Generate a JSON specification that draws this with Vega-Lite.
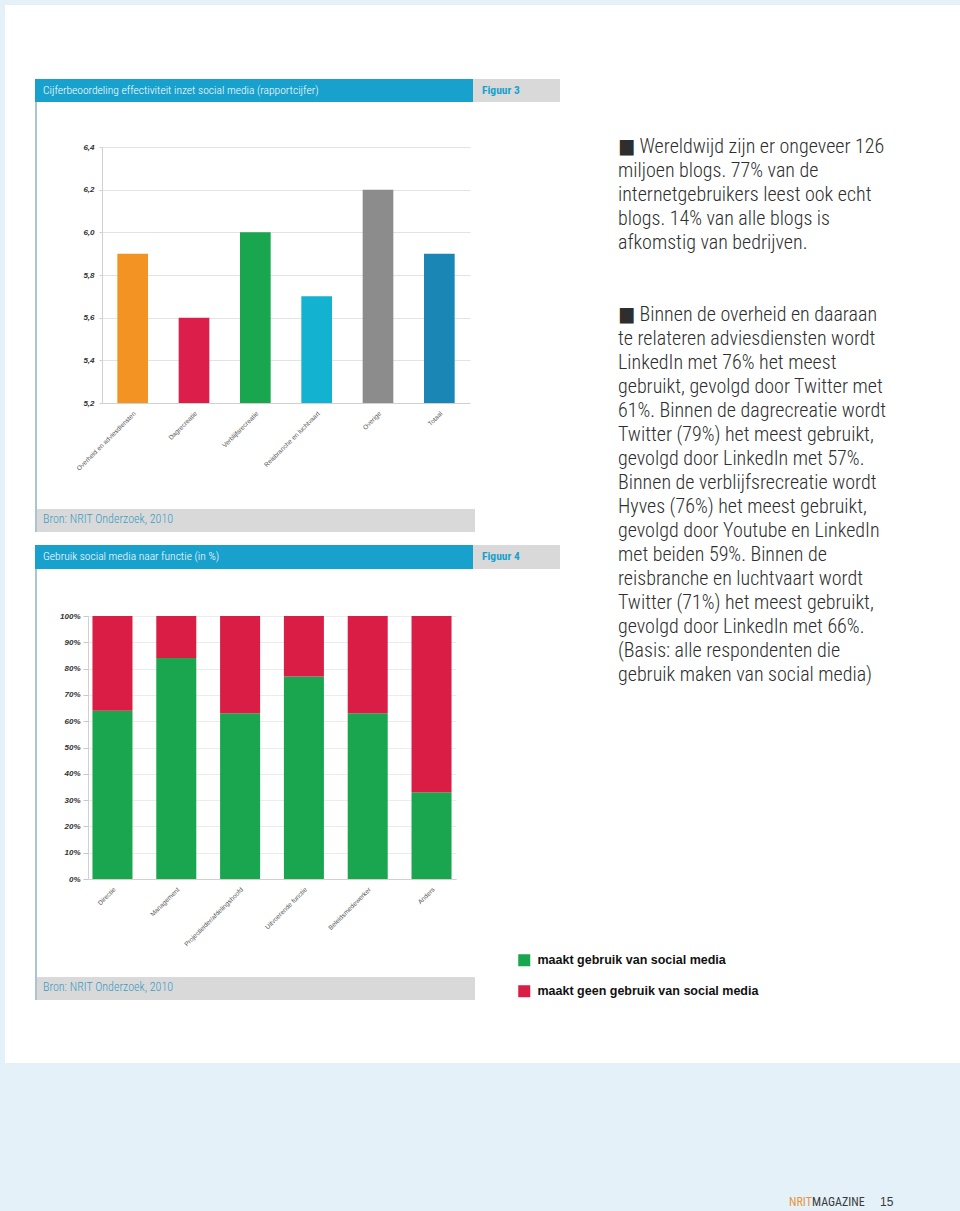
{
  "$schema": "https://vega.github.io/schema/vega-lite/v6.json",
  "padding": 0,
  "background": "#ffffff",
  "columns": 13,
  "bounds": "flush",
  "spacing": 0,
  "config": {
    "view": {"stroke": null},
    "font": "Liberation Sans",
    "title": {"anchor": "start", "frame": "group"}
  },
  "concat": [
    {"width": 5, "height": 5, "view": {"fill": "#e4f1f8"}, "data": {"values": []}, "mark": "rect", "encoding": {}},
    {"width": 30, "height": 5, "view": {"fill": "#e4f1f8"}, "data": {"values": []}, "mark": "rect", "encoding": {}},
    {"width": 2, "height": 5, "view": {"fill": "#e4f1f8"}, "data": {"values": []}, "mark": "rect", "encoding": {}},
    {"width": 51, "height": 5, "view": {"fill": "#e4f1f8"}, "data": {"values": []}, "mark": "rect", "encoding": {}},
    {"width": 382, "height": 5, "view": {"fill": "#e4f1f8"}, "data": {"values": []}, "mark": "rect", "encoding": {}},
    {"width": 3, "height": 5, "view": {"fill": "#e4f1f8"}, "data": {"values": []}, "mark": "rect", "encoding": {}},
    {"width": 2, "height": 5, "view": {"fill": "#e4f1f8"}, "data": {"values": []}, "mark": "rect", "encoding": {}},
    {"width": 85, "height": 5, "view": {"fill": "#e4f1f8"}, "data": {"values": []}, "mark": "rect", "encoding": {}},
    {"width": 58, "height": 5, "view": {"fill": "#e4f1f8"}, "data": {"values": []}, "mark": "rect", "encoding": {}},
    {"width": 171, "height": 5, "view": {"fill": "#e4f1f8"}, "data": {"values": []}, "mark": "rect", "encoding": {}},
    {"width": 23, "height": 5, "view": {"fill": "#e4f1f8"}, "data": {"values": []}, "mark": "rect", "encoding": {}},
    {"width": 68, "height": 5, "view": {"fill": "#e4f1f8"}, "data": {"values": []}, "mark": "rect", "encoding": {}},
    {"width": 80, "height": 5, "view": {"fill": "#e4f1f8"}, "data": {"values": []}, "mark": "rect", "encoding": {}},

    {"width": 5, "height": 74, "view": {"fill": "#e4f1f8"}, "data": {"values": []}, "mark": "rect", "encoding": {}},
    {"width": 1, "height": 1, "data": {"values": []}, "mark": "rect", "encoding": {}},
    {"width": 1, "height": 1, "data": {"values": []}, "mark": "rect", "encoding": {}},
    {"width": 1, "height": 1, "data": {"values": []}, "mark": "rect", "encoding": {}},
    {"width": 1, "height": 1, "data": {"values": []}, "mark": "rect", "encoding": {}},
    {"width": 1, "height": 1, "data": {"values": []}, "mark": "rect", "encoding": {}},
    {"width": 1, "height": 1, "data": {"values": []}, "mark": "rect", "encoding": {}},
    {"width": 1, "height": 1, "data": {"values": []}, "mark": "rect", "encoding": {}},
    {"width": 1, "height": 1, "data": {"values": []}, "mark": "rect", "encoding": {}},
    {"width": 1, "height": 1, "data": {"values": []}, "mark": "rect", "encoding": {}},
    {"width": 1, "height": 1, "data": {"values": []}, "mark": "rect", "encoding": {}},
    {"width": 1, "height": 1, "data": {"values": []}, "mark": "rect", "encoding": {}},
    {"width": 1, "height": 1, "data": {"values": []}, "mark": "rect", "encoding": {}},

    {"width": 5, "height": 23, "view": {"fill": "#e4f1f8"}, "data": {"values": []}, "mark": "rect", "encoding": {}},
    {"width": 1, "height": 1, "data": {"values": []}, "mark": "rect", "encoding": {}},
    {"width": 2, "height": 23, "view": {"fill": "#19a1cd"}, "data": {"values": []}, "mark": "rect", "encoding": {}},
    {"width": 51, "height": 23, "view": {"fill": "#19a1cd"}, "data": {"values": []}, "mark": "rect", "encoding": {}},
    {"width": 382, "height": 23, "view": {"fill": "#19a1cd"}, "data": {"values": []}, "mark": "rect", "encoding": {}},
    {"width": 3, "height": 23, "view": {"fill": "#19a1cd"}, "data": {"values": []}, "mark": "rect", "encoding": {},
     "title": {"text": "Cijferbeoordeling effectiviteit inzet social media (rapportcijfer)", "orient": "top", "offset": -17, "dx": -427, "color": "#ffffff", "font": "Liberation Sans Narrow, Roboto Condensed, DejaVu Sans Condensed, sans-serif", "fontSize": 11.5, "fontWeight": 300}},
    {"width": 2, "height": 23, "view": {"fill": "#d9d9d9"}, "data": {"values": []}, "mark": "rect", "encoding": {}},
    {"width": 85, "height": 23, "view": {"fill": "#d9d9d9"}, "data": {"values": []}, "mark": "rect", "encoding": {},
     "title": {"text": "Figuur 3", "orient": "top", "offset": -17, "dx": 7, "color": "#19a1cd", "font": "Liberation Sans Narrow, Roboto Condensed, DejaVu Sans Condensed, sans-serif", "fontSize": 11.5, "fontWeight": "bold"}},
    {"width": 1, "height": 1, "data": {"values": []}, "mark": "rect", "encoding": {}},
    {"width": 1, "height": 1, "data": {"values": []}, "mark": "rect", "encoding": {},
     "title": {
       "text": [
         "■  Wereldwijd zijn er ongeveer 126",
         "miljoen blogs. 77% van de",
         "internetgebruikers leest ook echt",
         "blogs. 14% van alle blogs is",
         "afkomstig van bedrijven."
       ],
       "orient": "bottom", "offset": 57, "color": "#2e2e2e",
       "font": "Liberation Sans Narrow, Roboto Condensed, DejaVu Sans Condensed, sans-serif",
       "fontSize": 20, "fontWeight": 300, "lineHeight": 24
     }},
    {"width": 1, "height": 1, "data": {"values": []}, "mark": "rect", "encoding": {}},
    {"width": 1, "height": 1, "data": {"values": []}, "mark": "rect", "encoding": {}},
    {"width": 1, "height": 1, "data": {"values": []}, "mark": "rect", "encoding": {}},

    {"width": 5, "height": 45, "view": {"fill": "#e4f1f8"}, "data": {"values": []}, "mark": "rect", "encoding": {}},
    {"width": 1, "height": 1, "data": {"values": []}, "mark": "rect", "encoding": {}},
    {"width": 2, "height": 45, "view": {"fill": "#a9c4d3"}, "data": {"values": []}, "mark": "rect", "encoding": {}},
    {"width": 1, "height": 1, "data": {"values": []}, "mark": "rect", "encoding": {}},
    {"width": 1, "height": 1, "data": {"values": []}, "mark": "rect", "encoding": {}},
    {"width": 1, "height": 1, "data": {"values": []}, "mark": "rect", "encoding": {}},
    {"width": 1, "height": 1, "data": {"values": []}, "mark": "rect", "encoding": {}},
    {"width": 1, "height": 1, "data": {"values": []}, "mark": "rect", "encoding": {}},
    {"width": 1, "height": 1, "data": {"values": []}, "mark": "rect", "encoding": {}},
    {"width": 1, "height": 1, "data": {"values": []}, "mark": "rect", "encoding": {}},
    {"width": 1, "height": 1, "data": {"values": []}, "mark": "rect", "encoding": {}},
    {"width": 1, "height": 1, "data": {"values": []}, "mark": "rect", "encoding": {}},
    {"width": 1, "height": 1, "data": {"values": []}, "mark": "rect", "encoding": {}},

    {"width": 5, "height": 256, "view": {"fill": "#e4f1f8"}, "data": {"values": []}, "mark": "rect", "encoding": {}},
    {"width": 1, "height": 1, "data": {"values": []}, "mark": "rect", "encoding": {}},
    {"width": 2, "height": 256, "view": {"fill": "#a9c4d3"}, "data": {"values": []}, "mark": "rect", "encoding": {}},
    {"width": 1, "height": 1, "data": {"values": []}, "mark": "rect", "encoding": {}},
    {
      "width": 382,
      "height": 256,
      "data": {"values": [
        {"sector": "Overheid en adviesdiensten", "cijfer": 5.9},
        {"sector": "Dagrecreatie", "cijfer": 5.6},
        {"sector": "Verblijfsrecreatie", "cijfer": 6.0},
        {"sector": "Reisbranche en luchtvaart", "cijfer": 5.7},
        {"sector": "Overige", "cijfer": 6.2},
        {"sector": "Totaal", "cijfer": 5.9}
      ]},
      "mark": {"type": "bar", "clip": true},
      "encoding": {
        "x": {"field": "sector", "type": "nominal", "sort": null,
          "scale": {"range": [14, 382], "paddingInner": 0.5, "paddingOuter": 0.25},
          "axis": {"title": null, "labelAngle": -45, "labelFontSize": 6.5, "labelColor": "#555555", "ticks": false, "domainColor": "#d0d0d0", "labelPadding": 7, "labelLimit": 200}},
        "y": {"field": "cijfer", "type": "quantitative",
          "scale": {"domain": [5.2, 6.4], "zero": false, "nice": false},
          "axis": {"title": null, "offset": -14, "values": [5.2, 5.4, 5.6, 5.8, 6.0, 6.2, 6.4], "labelExpr": "replace(format(datum.value, '.1f'), '.', ',')", "gridColor": "#e3e3e3", "domainColor": "#d0d0d0", "tickColor": "#d0d0d0", "tickSize": 3, "labelFontSize": 8, "labelFontWeight": "bold", "labelFontStyle": "italic", "labelColor": "#333333", "labelPadding": 5}},
        "fill": {"field": "sector", "type": "nominal", "legend": null,
          "scale": {"domain": ["Overheid en adviesdiensten", "Dagrecreatie", "Verblijfsrecreatie", "Reisbranche en luchtvaart", "Overige", "Totaal"],
                    "range": ["#f39323", "#dc1f4a", "#1aa64e", "#12b2d0", "#8c8c8c", "#1a86b5"]}}
      }
    },
    {"width": 1, "height": 1, "data": {"values": []}, "mark": "rect", "encoding": {}},
    {"width": 1, "height": 1, "data": {"values": []}, "mark": "rect", "encoding": {}},
    {"width": 1, "height": 1, "data": {"values": []}, "mark": "rect", "encoding": {}},
    {"width": 1, "height": 1, "data": {"values": []}, "mark": "rect", "encoding": {}},
    {"width": 1, "height": 1, "data": {"values": []}, "mark": "rect", "encoding": {},
     "title": {
       "text": [
         "■  Binnen de overheid en daaraan",
         "te relateren adviesdiensten wordt",
         "LinkedIn met 76% het meest",
         "gebruikt, gevolgd door Twitter met",
         "61%. Binnen de dagrecreatie wordt",
         "Twitter (79%) het meest gebruikt,",
         "gevolgd door LinkedIn met 57%.",
         "Binnen de verblijfsrecreatie wordt",
         "Hyves (76%) het meest gebruikt,",
         "gevolgd door Youtube en LinkedIn",
         "met beiden 59%. Binnen de",
         "reisbranche en luchtvaart wordt",
         "Twitter (71%) het meest gebruikt,",
         "gevolgd door LinkedIn met 66%.",
         "(Basis: alle respondenten die",
         "gebruik maken van social media)"
       ],
       "orient": "bottom", "offset": 157, "color": "#2e2e2e",
       "font": "Liberation Sans Narrow, Roboto Condensed, DejaVu Sans Condensed, sans-serif",
       "fontSize": 20, "fontWeight": 300, "lineHeight": 24
     }},
    {"width": 1, "height": 1, "data": {"values": []}, "mark": "rect", "encoding": {}},
    {"width": 1, "height": 1, "data": {"values": []}, "mark": "rect", "encoding": {}},
    {"width": 1, "height": 1, "data": {"values": []}, "mark": "rect", "encoding": {}},

    {"width": 5, "height": 106, "view": {"fill": "#e4f1f8"}, "data": {"values": []}, "mark": "rect", "encoding": {}},
    {"width": 1, "height": 1, "data": {"values": []}, "mark": "rect", "encoding": {}},
    {"width": 2, "height": 106, "view": {"fill": "#a9c4d3"}, "data": {"values": []}, "mark": "rect", "encoding": {}},
    {"width": 1, "height": 1, "data": {"values": []}, "mark": "rect", "encoding": {}},
    {"width": 1, "height": 1, "data": {"values": []}, "mark": "rect", "encoding": {}},
    {"width": 1, "height": 1, "data": {"values": []}, "mark": "rect", "encoding": {}},
    {"width": 1, "height": 1, "data": {"values": []}, "mark": "rect", "encoding": {}},
    {"width": 1, "height": 1, "data": {"values": []}, "mark": "rect", "encoding": {}},
    {"width": 1, "height": 1, "data": {"values": []}, "mark": "rect", "encoding": {}},
    {"width": 1, "height": 1, "data": {"values": []}, "mark": "rect", "encoding": {}},
    {"width": 1, "height": 1, "data": {"values": []}, "mark": "rect", "encoding": {}},
    {"width": 1, "height": 1, "data": {"values": []}, "mark": "rect", "encoding": {}},
    {"width": 1, "height": 1, "data": {"values": []}, "mark": "rect", "encoding": {}},

    {"width": 5, "height": 23, "view": {"fill": "#e4f1f8"}, "data": {"values": []}, "mark": "rect", "encoding": {}},
    {"width": 1, "height": 1, "data": {"values": []}, "mark": "rect", "encoding": {}},
    {"width": 2, "height": 23, "view": {"fill": "#a9c4d3"}, "data": {"values": []}, "mark": "rect", "encoding": {}},
    {"width": 51, "height": 23, "view": {"fill": "#d9d9d9"}, "data": {"values": []}, "mark": "rect", "encoding": {}},
    {"width": 382, "height": 23, "view": {"fill": "#d9d9d9"}, "data": {"values": []}, "mark": "rect", "encoding": {}},
    {"width": 3, "height": 23, "view": {"fill": "#d9d9d9"}, "data": {"values": []}, "mark": "rect", "encoding": {}},
    {"width": 2, "height": 23, "view": {"fill": "#d9d9d9"}, "data": {"values": []}, "mark": "rect", "encoding": {},
     "title": {"text": "Bron: NRIT Onderzoek, 2010", "orient": "top", "offset": -17, "dx": -430, "color": "#3a9cc4", "font": "Liberation Sans Narrow, Roboto Condensed, DejaVu Sans Condensed, sans-serif", "fontSize": 12, "fontWeight": 300}},
    {"width": 1, "height": 1, "data": {"values": []}, "mark": "rect", "encoding": {}},
    {"width": 1, "height": 1, "data": {"values": []}, "mark": "rect", "encoding": {}},
    {"width": 1, "height": 1, "data": {"values": []}, "mark": "rect", "encoding": {}},
    {"width": 1, "height": 1, "data": {"values": []}, "mark": "rect", "encoding": {}},
    {"width": 1, "height": 1, "data": {"values": []}, "mark": "rect", "encoding": {}},
    {"width": 1, "height": 1, "data": {"values": []}, "mark": "rect", "encoding": {}},

    {"width": 5, "height": 13, "view": {"fill": "#e4f1f8"}, "data": {"values": []}, "mark": "rect", "encoding": {}},
    {"width": 1, "height": 1, "data": {"values": []}, "mark": "rect", "encoding": {}},
    {"width": 1, "height": 1, "data": {"values": []}, "mark": "rect", "encoding": {}},
    {"width": 1, "height": 1, "data": {"values": []}, "mark": "rect", "encoding": {}},
    {"width": 1, "height": 1, "data": {"values": []}, "mark": "rect", "encoding": {}},
    {"width": 1, "height": 1, "data": {"values": []}, "mark": "rect", "encoding": {}},
    {"width": 1, "height": 1, "data": {"values": []}, "mark": "rect", "encoding": {}},
    {"width": 1, "height": 1, "data": {"values": []}, "mark": "rect", "encoding": {}},
    {"width": 1, "height": 1, "data": {"values": []}, "mark": "rect", "encoding": {}},
    {"width": 1, "height": 1, "data": {"values": []}, "mark": "rect", "encoding": {}},
    {"width": 1, "height": 1, "data": {"values": []}, "mark": "rect", "encoding": {}},
    {"width": 1, "height": 1, "data": {"values": []}, "mark": "rect", "encoding": {}},
    {"width": 1, "height": 1, "data": {"values": []}, "mark": "rect", "encoding": {}},

    {"width": 5, "height": 24, "view": {"fill": "#e4f1f8"}, "data": {"values": []}, "mark": "rect", "encoding": {}},
    {"width": 1, "height": 1, "data": {"values": []}, "mark": "rect", "encoding": {}},
    {"width": 2, "height": 24, "view": {"fill": "#19a1cd"}, "data": {"values": []}, "mark": "rect", "encoding": {}},
    {"width": 51, "height": 24, "view": {"fill": "#19a1cd"}, "data": {"values": []}, "mark": "rect", "encoding": {}},
    {"width": 382, "height": 24, "view": {"fill": "#19a1cd"}, "data": {"values": []}, "mark": "rect", "encoding": {}},
    {"width": 3, "height": 24, "view": {"fill": "#19a1cd"}, "data": {"values": []}, "mark": "rect", "encoding": {},
     "title": {"text": "Gebruik social media naar functie (in %)", "orient": "top", "offset": -17, "dx": -427, "color": "#ffffff", "font": "Liberation Sans Narrow, Roboto Condensed, DejaVu Sans Condensed, sans-serif", "fontSize": 11.5, "fontWeight": 300}},
    {"width": 2, "height": 24, "view": {"fill": "#d9d9d9"}, "data": {"values": []}, "mark": "rect", "encoding": {}},
    {"width": 85, "height": 24, "view": {"fill": "#d9d9d9"}, "data": {"values": []}, "mark": "rect", "encoding": {},
     "title": {"text": "Figuur 4", "orient": "top", "offset": -17, "dx": 7, "color": "#19a1cd", "font": "Liberation Sans Narrow, Roboto Condensed, DejaVu Sans Condensed, sans-serif", "fontSize": 11.5, "fontWeight": "bold"}},
    {"width": 1, "height": 1, "data": {"values": []}, "mark": "rect", "encoding": {}},
    {"width": 1, "height": 1, "data": {"values": []}, "mark": "rect", "encoding": {}},
    {"width": 1, "height": 1, "data": {"values": []}, "mark": "rect", "encoding": {}},
    {"width": 1, "height": 1, "data": {"values": []}, "mark": "rect", "encoding": {}},
    {"width": 1, "height": 1, "data": {"values": []}, "mark": "rect", "encoding": {}},

    {"width": 5, "height": 47, "view": {"fill": "#e4f1f8"}, "data": {"values": []}, "mark": "rect", "encoding": {}},
    {"width": 1, "height": 1, "data": {"values": []}, "mark": "rect", "encoding": {}},
    {"width": 2, "height": 47, "view": {"fill": "#a9c4d3"}, "data": {"values": []}, "mark": "rect", "encoding": {}},
    {"width": 1, "height": 1, "data": {"values": []}, "mark": "rect", "encoding": {}},
    {"width": 1, "height": 1, "data": {"values": []}, "mark": "rect", "encoding": {}},
    {"width": 1, "height": 1, "data": {"values": []}, "mark": "rect", "encoding": {}},
    {"width": 1, "height": 1, "data": {"values": []}, "mark": "rect", "encoding": {}},
    {"width": 1, "height": 1, "data": {"values": []}, "mark": "rect", "encoding": {}},
    {"width": 1, "height": 1, "data": {"values": []}, "mark": "rect", "encoding": {}},
    {"width": 1, "height": 1, "data": {"values": []}, "mark": "rect", "encoding": {}},
    {"width": 1, "height": 1, "data": {"values": []}, "mark": "rect", "encoding": {}},
    {"width": 1, "height": 1, "data": {"values": []}, "mark": "rect", "encoding": {}},
    {"width": 1, "height": 1, "data": {"values": []}, "mark": "rect", "encoding": {}},

    {"width": 5, "height": 263, "view": {"fill": "#e4f1f8"}, "data": {"values": []}, "mark": "rect", "encoding": {}},
    {"width": 1, "height": 1, "data": {"values": []}, "mark": "rect", "encoding": {}},
    {"width": 2, "height": 263, "view": {"fill": "#a9c4d3"}, "data": {"values": []}, "mark": "rect", "encoding": {}},
    {"width": 1, "height": 1, "data": {"values": []}, "mark": "rect", "encoding": {}},
    {
      "width": 368,
      "height": 263,
      "data": {"values": [
        {"functie": "Directie", "groep": "maakt gebruik van social media", "procent": 64},
        {"functie": "Directie", "groep": "maakt geen gebruik van social media", "procent": 36},
        {"functie": "Management", "groep": "maakt gebruik van social media", "procent": 84},
        {"functie": "Management", "groep": "maakt geen gebruik van social media", "procent": 16},
        {"functie": "Projectleider/afdelingshoofd", "groep": "maakt gebruik van social media", "procent": 63},
        {"functie": "Projectleider/afdelingshoofd", "groep": "maakt geen gebruik van social media", "procent": 37},
        {"functie": "Uitvoerende functie", "groep": "maakt gebruik van social media", "procent": 77},
        {"functie": "Uitvoerende functie", "groep": "maakt geen gebruik van social media", "procent": 23},
        {"functie": "Beleidsmedewerker", "groep": "maakt gebruik van social media", "procent": 63},
        {"functie": "Beleidsmedewerker", "groep": "maakt geen gebruik van social media", "procent": 37},
        {"functie": "Anders", "groep": "maakt gebruik van social media", "procent": 33},
        {"functie": "Anders", "groep": "maakt geen gebruik van social media", "procent": 67}
      ]},
      "mark": {"type": "bar"},
      "encoding": {
        "x": {"field": "functie", "type": "nominal", "sort": null,
          "scale": {"paddingInner": 0.373, "paddingOuter": 0.07},
          "axis": {"title": null, "labelAngle": -45, "labelFontSize": 6.5, "labelColor": "#555555", "ticks": false, "domainColor": "#d0d0d0", "labelPadding": 7, "labelLimit": 200}},
        "y": {"field": "procent", "type": "quantitative", "stack": "zero",
          "scale": {"domain": [0, 100], "nice": false},
          "axis": {"title": null, "values": [0, 10, 20, 30, 40, 50, 60, 70, 80, 90, 100], "labelExpr": "datum.value + '%'", "gridColor": "#ececec", "domainColor": "#d0d0d0", "tickColor": "#c8c8c8", "tickSize": 5, "labelFontSize": 8, "labelFontWeight": "bold", "labelFontStyle": "italic", "labelColor": "#333333", "labelPadding": 3}},
        "order": {"field": "groep", "sort": "ascending"},
        "color": {"field": "groep", "type": "nominal",
          "scale": {"domain": ["maakt gebruik van social media", "maakt geen gebruik van social media"], "range": ["#1aa64e", "#da1d45"]},
          "legend": {"orient": "none", "legendX": 518, "legendY": 954, "title": null, "symbolType": "square", "symbolSize": 144, "symbolStrokeWidth": 0, "labelFontSize": 12.5, "labelFontWeight": "bold", "labelColor": "#111111", "labelFont": "Liberation Sans", "rowPadding": 18, "labelOffset": 7, "padding": 0, "labelLimit": 400}}
      }
    },
    {"width": 1, "height": 1, "data": {"values": []}, "mark": "rect", "encoding": {}},
    {"width": 1, "height": 1, "data": {"values": []}, "mark": "rect", "encoding": {}},
    {"width": 1, "height": 1, "data": {"values": []}, "mark": "rect", "encoding": {}},
    {"width": 1, "height": 1, "data": {"values": []}, "mark": "rect", "encoding": {}},
    {"width": 1, "height": 1, "data": {"values": []}, "mark": "rect", "encoding": {}},
    {"width": 1, "height": 1, "data": {"values": []}, "mark": "rect", "encoding": {}},
    {"width": 1, "height": 1, "data": {"values": []}, "mark": "rect", "encoding": {}},
    {"width": 1, "height": 1, "data": {"values": []}, "mark": "rect", "encoding": {}},

    {"width": 5, "height": 98, "view": {"fill": "#e4f1f8"}, "data": {"values": []}, "mark": "rect", "encoding": {}},
    {"width": 1, "height": 1, "data": {"values": []}, "mark": "rect", "encoding": {}},
    {"width": 2, "height": 98, "view": {"fill": "#a9c4d3"}, "data": {"values": []}, "mark": "rect", "encoding": {}},
    {"width": 1, "height": 1, "data": {"values": []}, "mark": "rect", "encoding": {}},
    {"width": 1, "height": 1, "data": {"values": []}, "mark": "rect", "encoding": {}},
    {"width": 1, "height": 1, "data": {"values": []}, "mark": "rect", "encoding": {}},
    {"width": 1, "height": 1, "data": {"values": []}, "mark": "rect", "encoding": {}},
    {"width": 1, "height": 1, "data": {"values": []}, "mark": "rect", "encoding": {}},
    {"width": 1, "height": 1, "data": {"values": []}, "mark": "rect", "encoding": {}},
    {"width": 1, "height": 1, "data": {"values": []}, "mark": "rect", "encoding": {}},
    {"width": 1, "height": 1, "data": {"values": []}, "mark": "rect", "encoding": {}},
    {"width": 1, "height": 1, "data": {"values": []}, "mark": "rect", "encoding": {}},
    {"width": 1, "height": 1, "data": {"values": []}, "mark": "rect", "encoding": {}},

    {"width": 5, "height": 23, "view": {"fill": "#e4f1f8"}, "data": {"values": []}, "mark": "rect", "encoding": {}},
    {"width": 1, "height": 1, "data": {"values": []}, "mark": "rect", "encoding": {}},
    {"width": 2, "height": 23, "view": {"fill": "#a9c4d3"}, "data": {"values": []}, "mark": "rect", "encoding": {}},
    {"width": 51, "height": 23, "view": {"fill": "#d9d9d9"}, "data": {"values": []}, "mark": "rect", "encoding": {}},
    {"width": 382, "height": 23, "view": {"fill": "#d9d9d9"}, "data": {"values": []}, "mark": "rect", "encoding": {}},
    {"width": 3, "height": 23, "view": {"fill": "#d9d9d9"}, "data": {"values": []}, "mark": "rect", "encoding": {}},
    {"width": 2, "height": 23, "view": {"fill": "#d9d9d9"}, "data": {"values": []}, "mark": "rect", "encoding": {},
     "title": {"text": "Bron: NRIT Onderzoek, 2010", "orient": "top", "offset": -17, "dx": -430, "color": "#3a9cc4", "font": "Liberation Sans Narrow, Roboto Condensed, DejaVu Sans Condensed, sans-serif", "fontSize": 12, "fontWeight": 300}},
    {"width": 1, "height": 1, "data": {"values": []}, "mark": "rect", "encoding": {}},
    {"width": 1, "height": 1, "data": {"values": []}, "mark": "rect", "encoding": {}},
    {"width": 1, "height": 1, "data": {"values": []}, "mark": "rect", "encoding": {}},
    {"width": 1, "height": 1, "data": {"values": []}, "mark": "rect", "encoding": {}},
    {"width": 1, "height": 1, "data": {"values": []}, "mark": "rect", "encoding": {}},
    {"width": 1, "height": 1, "data": {"values": []}, "mark": "rect", "encoding": {}},

    {"width": 5, "height": 63, "view": {"fill": "#e4f1f8"}, "data": {"values": []}, "mark": "rect", "encoding": {}},
    {"width": 1, "height": 1, "data": {"values": []}, "mark": "rect", "encoding": {}},
    {"width": 1, "height": 1, "data": {"values": []}, "mark": "rect", "encoding": {}},
    {"width": 1, "height": 1, "data": {"values": []}, "mark": "rect", "encoding": {}},
    {"width": 1, "height": 1, "data": {"values": []}, "mark": "rect", "encoding": {}},
    {"width": 1, "height": 1, "data": {"values": []}, "mark": "rect", "encoding": {}},
    {"width": 1, "height": 1, "data": {"values": []}, "mark": "rect", "encoding": {}},
    {"width": 1, "height": 1, "data": {"values": []}, "mark": "rect", "encoding": {}},
    {"width": 1, "height": 1, "data": {"values": []}, "mark": "rect", "encoding": {}},
    {"width": 1, "height": 1, "data": {"values": []}, "mark": "rect", "encoding": {}},
    {"width": 1, "height": 1, "data": {"values": []}, "mark": "rect", "encoding": {}},
    {"width": 1, "height": 1, "data": {"values": []}, "mark": "rect", "encoding": {}},
    {"width": 1, "height": 1, "data": {"values": []}, "mark": "rect", "encoding": {}},

    {"width": 5, "height": 148, "view": {"fill": "#e4f1f8"}, "data": {"values": []}, "mark": "rect", "encoding": {}},
    {"width": 30, "height": 148, "view": {"fill": "#e4f1f8"}, "data": {"values": []}, "mark": "rect", "encoding": {}},
    {"width": 2, "height": 148, "view": {"fill": "#e4f1f8"}, "data": {"values": []}, "mark": "rect", "encoding": {}},
    {"width": 51, "height": 148, "view": {"fill": "#e4f1f8"}, "data": {"values": []}, "mark": "rect", "encoding": {}},
    {"width": 382, "height": 148, "view": {"fill": "#e4f1f8"}, "data": {"values": []}, "mark": "rect", "encoding": {}},
    {"width": 3, "height": 148, "view": {"fill": "#e4f1f8"}, "data": {"values": []}, "mark": "rect", "encoding": {}},
    {"width": 2, "height": 148, "view": {"fill": "#e4f1f8"}, "data": {"values": []}, "mark": "rect", "encoding": {}},
    {"width": 85, "height": 148, "view": {"fill": "#e4f1f8"}, "data": {"values": []}, "mark": "rect", "encoding": {}},
    {"width": 58, "height": 148, "view": {"fill": "#e4f1f8"}, "data": {"values": []}, "mark": "rect", "encoding": {}},
    {"width": 171, "height": 148, "view": {"fill": "#e4f1f8"}, "data": {"values": []}, "mark": "rect", "encoding": {}},
    {"width": 23, "height": 148, "view": {"fill": "#e4f1f8"}, "data": {"values": []}, "mark": "rect", "encoding": {},
     "title": {"text": "NRIT", "orient": "top", "offset": -146, "color": "#e8953a", "font": "Liberation Sans Narrow, Roboto Condensed, DejaVu Sans Condensed, sans-serif", "fontSize": 12, "fontWeight": "normal"}},
    {"width": 68, "height": 148, "view": {"fill": "#e4f1f8"}, "data": {"values": []}, "mark": "rect", "encoding": {},
     "title": {"text": "MAGAZINE", "orient": "top", "offset": -146, "color": "#3a3a3a", "font": "Liberation Sans Narrow, Roboto Condensed, DejaVu Sans Condensed, sans-serif", "fontSize": 12, "fontWeight": "normal"}},
    {"width": 80, "height": 148, "view": {"fill": "#e4f1f8"}, "data": {"values": []}, "mark": "rect", "encoding": {},
     "title": {"text": "15", "orient": "top", "offset": -146, "color": "#3a3a3a", "font": "Liberation Sans", "fontSize": 12, "fontWeight": "normal"}}
  ]
}
